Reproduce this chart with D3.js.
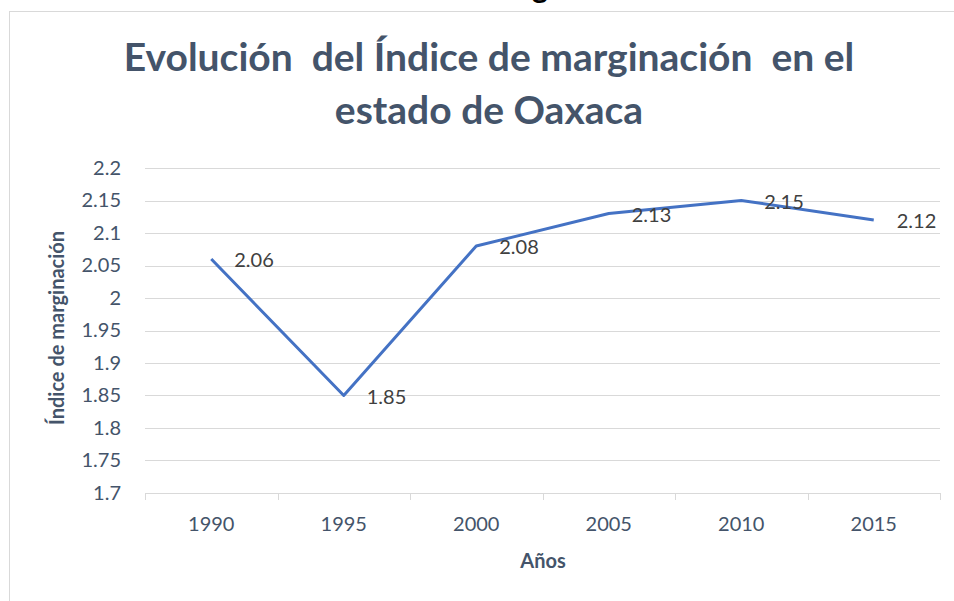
<!DOCTYPE html>
<html lang="es">
<head>
    <meta charset="UTF-8">
    <title>Índice de marginación Oaxaca</title>
    <script src="https://cdn.jsdelivr.net/npm/d3@7"></script>
    <style>
        body { margin: 0; background: #fff; }
        svg { display: block; font-family: Lato, "Open Sans", sans-serif; }
        .grid line { stroke: #D9D9D9; stroke-width: 1; }
    </style>
</head>
<body>
    <svg width="954" height="601"></svg>
    <script>

        // data
        var years = ["1990", "1995", "2000", "2005", "2010", "2015"];
        var indice = [2.06, 1.85, 2.08, 2.13, 2.15, 2.12];
        var yTicks = [1.7, 1.75, 1.8, 1.85, 1.9, 1.95, 2, 2.05, 2.1, 2.15, 2.2];
        var titleLines = ["Evolución  del Índice de marginación  en el", "estado de Oaxaca"];

        var svg = d3.select("svg");
        var textColor = "#44546A";
        var plotLeft = 145, plotRight = 940, plotTop = 168, plotBottom = 493;

        var x = d3.scaleBand().domain(years).range([plotLeft, plotRight]).padding(0);
        var y = d3.scaleLinear().domain([1.7, 2.2]).range([plotBottom, plotTop]);

        // chart frame (cut off at the right and bottom)
        svg.append("rect")
            .attr("x", 9.5).attr("y", 11.5)
            .attr("width", 1000).attr("height", 700)
            .attr("fill", "#fff")
            .attr("stroke", "#D9D9D9");

        // leftover bit of the text above the chart
        svg.append("text")
            .attr("x", 540).attr("y", -2)
            .attr("text-anchor", "middle")
            .attr("font-weight", "bold")
            .attr("font-size", 30)
            .attr("fill", "#000")
            .text("g");

        // title
        svg.append("g").selectAll("text")
            .data(titleLines)
            .enter().append("text")
            .attr("x", 489)
            .attr("y", function(d, i) { return 71 + i * 53; })
            .attr("text-anchor", "middle")
            .attr("font-weight", "bold")
            .attr("font-size", 39)
            .attr("fill", textColor)
            .style("white-space", "pre")
            .text(function(d) { return d; });

        // horizontal gridlines
        svg.append("g")
            .attr("class", "grid")
            .selectAll("line")
            .data(yTicks.filter(function(d) { return d > 1.7; }))
            .enter().append("line")
            .attr("x1", plotLeft).attr("x2", plotRight)
            .attr("y1", function(d) { return Math.round(y(d)) + 0.5; })
            .attr("y2", function(d) { return Math.round(y(d)) + 0.5; });

        // x axis
        var xAxis = svg.append("g")
            .attr("transform", "translate(0," + (plotBottom + 0.5) + ")")
            .call(d3.axisBottom(x).tickSize(0).tickPadding(0));
        xAxis.select(".domain").remove();
        xAxis.selectAll(".tick text")
            .attr("y", 30)
            .attr("dy", "0.35em")
            .attr("font-size", 20)
            .attr("font-family", "Lato")
            .attr("fill", textColor);

        svg.append("line")
            .attr("x1", plotLeft).attr("x2", plotRight)
            .attr("y1", plotBottom + 0.5).attr("y2", plotBottom + 0.5)
            .attr("stroke", "#D9D9D9");

        svg.append("g").selectAll("line")
            .data(years.concat(["end"]))
            .enter().append("line")
            .attr("x1", function(d, i) { return Math.round(plotLeft + i * x.bandwidth()) + 0.5; })
            .attr("x2", function(d, i) { return Math.round(plotLeft + i * x.bandwidth()) + 0.5; })
            .attr("y1", plotBottom).attr("y2", plotBottom + 7)
            .attr("stroke", "#D9D9D9");

        // y axis labels
        var yAxis = svg.append("g")
            .attr("transform", "translate(121,0)")
            .call(d3.axisLeft(y).tickValues(yTicks).tickSize(0).tickPadding(0)
                .tickFormat(function(d) { return String(+d.toFixed(2)); }));
        yAxis.select(".domain").remove();
        yAxis.selectAll(".tick text")
            .attr("font-size", 20)
            .attr("font-family", "Lato")
            .attr("fill", textColor);

        // axis titles
        svg.append("text")
            .attr("x", 543).attr("y", 561)
            .attr("dy", "0.35em")
            .attr("text-anchor", "middle")
            .attr("font-weight", "bold")
            .attr("font-size", 20)
            .attr("fill", textColor)
            .text("Años");

        svg.append("text")
            .attr("transform", "translate(57,328) rotate(-90)")
            .attr("dy", "0.35em")
            .attr("text-anchor", "middle")
            .attr("font-weight", "bold")
            .attr("font-size", 20)
            .attr("fill", textColor)
            .text("Índice de marginación");

        // the line
        var valueLine = d3.line()
            .x(function(d, i) { return x(years[i]) + x.bandwidth() / 2; })
            .y(function(d) { return y(d); });

        svg.append("path")
            .datum(indice)
            .attr("d", valueLine)
            .attr("fill", "none")
            .attr("stroke", "#4472C4")
            .attr("stroke-width", 3)
            .attr("stroke-linejoin", "round");

        // data labels
        svg.append("g").selectAll("text")
            .data(indice)
            .enter().append("text")
            .attr("x", function(d, i) { return x(years[i]) + x.bandwidth() / 2 + 23; })
            .attr("y", function(d) { return y(d) + 1; })
            .attr("dy", "0.35em")
            .attr("font-size", 20)
            .attr("fill", "#404040")
            .text(function(d) { return d.toFixed(2); });

    </script>
</body>
</html>
